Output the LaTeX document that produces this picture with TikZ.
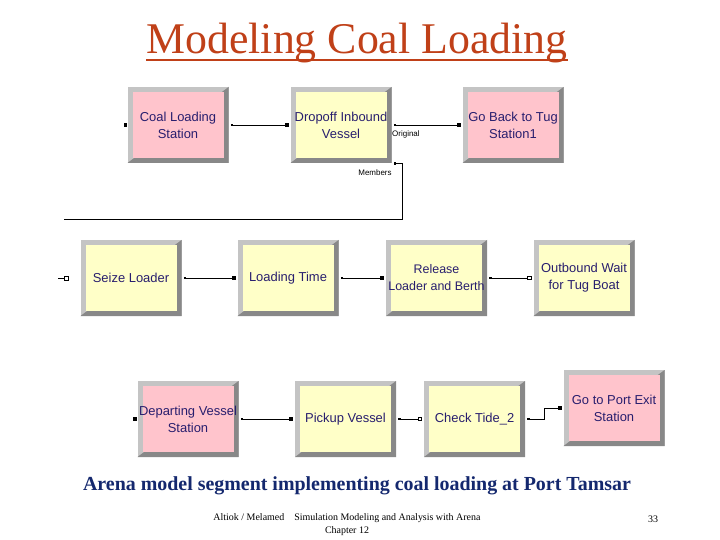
\documentclass[tikz,border=0pt]{standalone}
\usepackage{fontspec}
\setmainfont{Liberation Serif}
\newfontfamily\arenafont{Liberation Sans}
\usetikzlibrary{arrows.meta,positioning,calc}
\definecolor{titlered}{RGB}{192,64,24}
\definecolor{capblue}{RGB}{20,40,110}
\definecolor{modpink}{RGB}{255,196,204}
\definecolor{modyellow}{RGB}{255,255,200}
\definecolor{bevlight}{RGB}{196,196,196}
\definecolor{bevdark}{RGB}{136,136,136}
\definecolor{modtext}{RGB}{40,30,110}
\tikzset{
 module/.style={rectangle,inner sep=0pt,minimum width=101bp,minimum height=76bp,fill=bevlight,text=modtext,align=center,
  font=\arenafont\fontsize{13}{17}\selectfont,
  path picture={\fill[bevdark] (path picture bounding box.north east)--(path picture bounding box.south east)--(path picture bounding box.south west)--cycle;
   \fill[#1] ([shift={(5bp,-5bp)}]path picture bounding box.north west) rectangle ([shift={(-5bp,5bp)}]path picture bounding box.south east);}},
 conn/.style={line width=.8bp,{Square[length=2.5bp,width=2.5bp]}-{Square[length=3.5bp,width=3.5bp]},shorten <=2bp,shorten >=2bp},
 connopen/.style={conn,{Square[length=2.5bp,width=2.5bp]}-{Square[open,length=4bp,width=4bp]}},
 portlbl/.style={inner sep=0pt,font=\arenafont\fontsize{8}{9}\selectfont}
}
\begin{document}
\begin{tikzpicture}[x=1bp,y=-1bp]
\fill[white] (0,0) rectangle (720,540); \useasboundingbox (0,0) rectangle (720,540);
\node[inner sep=0pt,anchor=base,text=titlered,font=\fontsize{44}{48}\selectfont] (title) at (357,54) {Modeling Coal Loading};
\draw[titlered,line width=2bp] ([yshift=-6bp]title.base west) -- ([yshift=-6bp]title.base east);
% first row
\node[module=modpink] (coal) at (178,125) {Coal Loading\\Station};
\node[module=modyellow] (dropoff) at (341,125) {Dropoff Inbound\\Vessel};
\node[module=modpink] (goback) at (513,125) {Go Back to Tug\\Station1};
% second row
\node[module=modyellow] (seize) at (131,278) {Seize Loader};
\node[module=modyellow] (loadtime) at (288,278) {Loading Time};
\node[module=modyellow,font=\arenafont\fontsize{12.5}{17}\selectfont] (release) at (436.5,278) {Release\\Loader and Berth};
\node[module=modyellow] (outbound) at (584,278) {Outbound Wait\\for Tug Boat};
% third row
\node[module=modpink] (depart) at (188,419) {Departing Vessel\\Station};
\node[module=modyellow] (pickup) at (345.5,419) {Pickup Vessel};
\node[module=modyellow] (tide) at (474.5,419) {Check Tide\_2};
\node[module=modpink] (portexit) at (614,408) {Go to Port Exit\\Station};
\coordinate (memout) at (64,219);
\draw[conn] (coal) -- (dropoff); \draw[conn] (dropoff) -- (goback);
\draw[line width=.8bp,{Square[length=2.5bp,width=2.5bp]}-,shorten <=2bp] (dropoff.south east) -- ++(11,0) |- (memout);
\node[portlbl,anchor=west] (origlbl) at (392,134) {Original};
\node[portlbl] (memlbl) at (375,173) {Members};
\draw[conn] (seize) -- (loadtime); \draw[conn] (loadtime) -- (release); \draw[connopen] (release) -- (outbound);
\draw[conn] (depart) -- (pickup); \draw[connopen] (pickup) -- (tide);
\draw[conn] (tide.east) -- ++(19,0) |- (portexit.west);
% entry points
\fill ([xshift=-2bp]coal.west) +(-1.8bp,-1.8bp) rectangle +(1.8bp,1.8bp);
\fill ([xshift=-2.5bp]depart.west) +(-1.8bp,-1.8bp) rectangle +(1.8bp,1.8bp);
\draw[line width=.8bp] ([xshift=-22bp]seize.west) -- ([xshift=-16bp]seize.west);
\draw[line width=.8bp] ([xshift=-14bp]seize.west) +(-2bp,-2bp) rectangle +(2bp,2bp);
\node[anchor=base,text=capblue,font=\bfseries\fontsize{20}{24}\selectfont] (caption) at (357,490) {Arena model segment implementing coal loading at Port Tamsar};
\node[align=center,font=\fontsize{10}{13}\selectfont] (footer) at (347,525) {Altiok / Melamed\quad Simulation Modeling and Analysis with Arena\\Chapter 12};
\node[font=\fontsize{10}{12}\selectfont] (pagenum) at (653,519) {33};
\end{tikzpicture}
\end{document}
